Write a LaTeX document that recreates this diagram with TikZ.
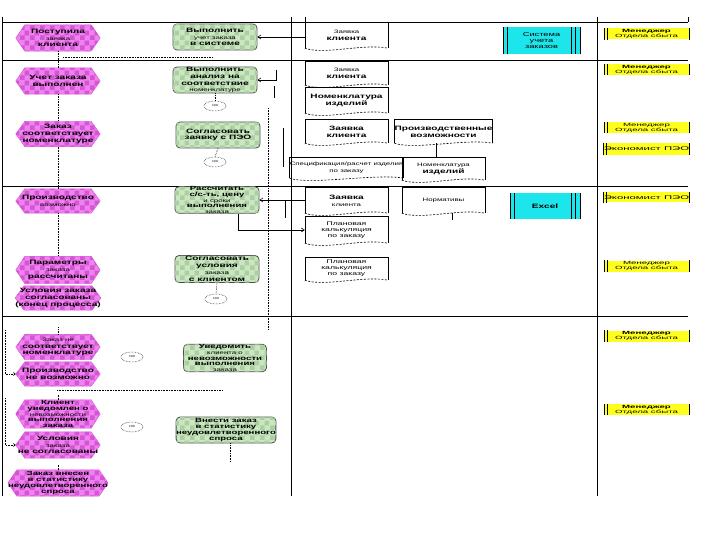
\documentclass[tikz,border=0pt]{standalone}
\usepackage{fontspec}
\setmainfont{Liberation Sans}
\newfontfamily\wfont[FakeStretch=1.6]{Liberation Sans}
\newfontfamily\ofont[FakeStretch=2.1]{Liberation Sans}
\usetikzlibrary{patterns,backgrounds,arrows.meta,shapes.geometric}
\definecolor{evmag}{RGB}{238,130,238}
\definecolor{evchk}{RGB}{214,84,214}
\definecolor{fngreen}{RGB}{204,230,196}
\definecolor{fnchk}{RGB}{170,208,160}
\definecolor{sycyan}{RGB}{28,230,236}
\definecolor{ogyellow}{RGB}{255,255,30}
\pgfdeclarepatternformonly{chk}{\pgfqpoint{0pt}{0pt}}{\pgfqpoint{10pt}{10pt}}{\pgfqpoint{10pt}{10pt}}{%
\pgfpathrectangle{\pgfqpoint{0pt}{0pt}}{\pgfqpoint{5pt}{5pt}}%
\pgfpathrectangle{\pgfqpoint{5pt}{5pt}}{\pgfqpoint{5pt}{5pt}}%
\pgfusepath{fill}}
\newcommand\sml[1]{{\fontsize{4.9}{5.2}\selectfont\mdseries #1}}
\newcommand\hexbg[1]{\begin{scope}[on background layer]\path[draw=evchk,line width=0.4pt,fill=evmag,postaction={pattern=chk,pattern color=evchk}] (#1.west) -- ([xshift=9pt]#1.north west) -- ([xshift=-9pt]#1.north east) -- (#1.east) -- ([xshift=-9pt]#1.south east) -- ([xshift=9pt]#1.south west) -- cycle;\end{scope}}
\newcommand\docbg[1]{\draw[line width=0.6pt] (#1.south west) -- (#1.north west) -- (#1.north east) -- (#1.south east);
\draw[line width=0.6pt,dash pattern=on 2pt off 1.5pt] (#1.south west) .. controls ([xshift=20pt,yshift=-7pt]#1.south west) and ([xshift=-25pt,yshift=5pt]#1.south east) .. (#1.south east);}
\newcommand\sysbg[1]{\draw[line width=0.6pt] (#1.south west) -- (#1.north west) ([xshift=4pt]#1.south west) -- ([xshift=4pt]#1.north west) ([xshift=-9pt]#1.south east) -- ([xshift=-9pt]#1.north east) ([xshift=-5pt]#1.south east) -- ([xshift=-5pt]#1.north east) (#1.south east) -- (#1.north east);}
\newcommand\orgbg[1]{\draw[line width=0.6pt] (#1.south west) -- (#1.north west) ([xshift=3pt]#1.south west) -- ([xshift=3pt]#1.north west) (#1.south east) -- (#1.north east);}
\begin{document}
\begin{tikzpicture}[x=1pt,y=-1pt,
 every node/.style={font=\wfont\bfseries\fontsize{6.3}{6.8}\selectfont,align=center,inner sep=0pt},
 ev/.style={minimum width=84pt,minimum height=26pt},
 fn/.style={draw=black!70,line width=0.8pt,rounded corners=4pt,fill=fngreen,postaction={pattern=chk,pattern color=fnchk},minimum width=84pt,minimum height=26pt},
 dc/.style={minimum width=83pt,minimum height=24pt},
 sy/.style={fill=sycyan,minimum width=77pt,minimum height=27pt},
 og/.style={fill=ogyellow,minimum width=85pt,minimum height=11pt,font=\ofont\fontsize{4.6}{5}\selectfont},
 xo/.style={draw,densely dotted,line width=0.5pt,ellipse,minimum width=22pt,minimum height=10pt,font=\fontsize{2.8}{3}\selectfont},
 flow/.style={densely dotted,line width=0.6pt},
 arr/.style={-{Straight Barb[length=3pt,width=4pt]},line width=0.6pt},
 grid/.style={line width=0.8pt}]
\useasboundingbox (0,0) rectangle (720,540);
% grid
\draw[grid] (2,22) -- (688,22) (2,60) -- (688,60) (2,186) -- (688,186) (2,316) -- (688,316);
\draw[grid] (2,22) -- (2,496) (291,22) -- (291,496) (597,22) -- (597,496);
\draw[line width=0.4pt] (2,17) -- (2,22) (291,17) -- (291,22) (305,17) -- (305,22) (597,17) -- (597,22) (688,17) -- (688,22);
% events
\node[ev] (e1) at (58,38) {Поступила\\\sml{заявка}\\клиента};
\node[ev] (e2) at (58,81) {Учет заказа\\выполнен};
\node[ev,minimum height=25pt] (e3) at (58,134) {Заказ\\соответствует\\номенклатуре};
\node[ev,minimum height=24pt] (e4) at (58,201) {Производство\\\sml{возможно}};
\node[ev,minimum height=27pt] (e5) at (58,270) {Параметры\\\sml{заказа}\\рассчитаны};
\node[ev,minimum height=24pt] (e6) at (58,298) {Условия заказа\\согласованы\\(конец процесса)};
\node[ev,minimum height=25pt] (e7) at (58,347) {\sml{Заказ не}\\соответствует\\номенклатуре};
\node[ev,minimum height=24pt] (e8) at (58,374) {Производство\\не возможно};
\node[ev,minimum height=28pt,font=\wfont\bfseries\fontsize{6}{5.6}\selectfont] (e9) at (58,414) {Клиент\\уведомлен о\\\sml{невозможности}\\выполнения\\заказа};
\node[ev] (e10) at (58,445) {Условия\\\sml{заказа}\\не согласованы};
\node[ev,font=\wfont\bfseries\fontsize{6}{6.2}\selectfont] (e11) at (58,483) {Заказ внесен\\в статистику\\неудовлетворенного\\спроса};
\foreach \n in {e1,e2,e3,e4,e5,e6,e7,e8,e9,e10,e11} {\hexbg{\n}}
% functions
\node[fn] (f1) at (215,37) {Выполнить\\\sml{учет заказа}\\в системе};
\node[fn] (f2) at (215,80) {Выполнить\\анализ на\\соответствие\\\sml{номенклатуре}};
\node[fn] (f3) at (218,135) {Согласовать\\заявку с ПЭО};
\node[fn,minimum height=25pt,font=\wfont\bfseries\fontsize{6}{5.6}\selectfont] (f4) at (217,200) {Рассчитать\\с/с-ть, цену\\\sml{и сроки}\\выполнения\\\sml{заказа}};
\node[fn,minimum height=27pt] (f5) at (217,269) {Согласовать\\условия\\\sml{заказа}\\с клиентом};
\node[fn,minimum width=83pt,minimum height=27pt,font=\wfont\bfseries\fontsize{6}{5.8}\selectfont] (f6) at (225,358) {Уведомить\\\sml{клиента о}\\невозможности\\выполнения\\\sml{заказа}};
\node[fn,minimum width=82pt,font=\wfont\bfseries\fontsize{6}{6.2}\selectfont] (f7) at (226,430) {Внести заказ\\в статистику\\неудовлетворенного\\спроса};
% xor
\node[xo] (x1) at (215,106) {XOR};
\node[xo] (x2) at (215,162) {XOR};
\node[xo] (x3) at (216,299) {XOR};
\node[xo] (x4) at (132,357) {XOR};
\node[xo] (x5) at (132,427) {XOR};
% documents
\node[dc,minimum height=25pt] (d1) at (346.5,35.5) {\sml{Заявка}\\клиента};
\node[dc,minimum height=23pt] (d2) at (346.5,73.5) {\sml{Заявка}\\клиента};
\node[dc,minimum height=25pt] (d3) at (346.5,100.5) {Номенклатура\\изделий};
\node[dc,minimum height=23pt] (d4) at (346.5,131.5) {Заявка\\клиента};
\node[dc,minimum height=23pt] (d5) at (443.5,131.5) {Производственные\\возможности};
\node[dc,minimum height=20pt] (d6) at (346.5,168) {\sml{Спецификация/расчет изделия}\\\sml{по заказу}};
\node[dc,minimum height=22pt] (d7) at (443.5,169) {\sml{Номенклатура}\\изделий};
\node[dc,minimum height=25pt] (d8) at (346.5,200.5) {Заявка\\\sml{клиента}};
\node[dc,minimum height=25pt] (d9) at (443.5,200.5) {\sml{Нормативы}};
\node[dc,minimum height=26pt,font=\wfont\fontsize{5.4}{6}\selectfont] (d10) at (346.5,230) {Плановая\\калькуляция\\по заказу};
\node[dc,minimum height=23pt,font=\wfont\fontsize{5.4}{6}\selectfont] (d11) at (346.5,268.5) {Плановая\\калькуляция\\по заказу};
\foreach \n in {d1,d2,d3,d4,d5,d6,d7,d8,d9,d10,d11} {\docbg{\n}}
% systems
\node[sy,font=\wfont\fontsize{5.8}{6.4}\selectfont] (s1) at (541.5,40.5) {Система\\учета\\заказов};
\node[sy,minimum width=70pt,minimum height=26pt] (s2) at (545,206) {Excel};
\sysbg{s1}\sysbg{s2}
% org units
\node[og] (o1) at (646.5,34) {\textbf{Менеджер}\\Отдела сбыта};
\node[og] (o2) at (646.5,69.5) {\textbf{Менеджер}\\Отдела сбыта};
\node[og] (o3) at (646.5,127.5) {Менеджер\\Отдела сбыта};
\node[og,minimum height=12pt,font=\ofont\fontsize{5.4}{6}\selectfont] (o4) at (646.5,149) {Экономист ПЭО};
\node[og,minimum height=10pt,font=\ofont\fontsize{5.4}{6}\selectfont] (o5) at (646.5,197.5) {Экономист ПЭО};
\node[og] (o6) at (646.5,266) {Менеджер\\Отдела сбыта};
\node[og] (o7) at (646.5,336) {\textbf{Менеджер}\\Отдела сбыта};
\node[og] (o8) at (646.5,409.5) {\textbf{Менеджер}\\Отдела сбыта};
\foreach \n in {o1,o2,o3,o4,o5,o6,o7,o8} {\orgbg{\n}}
% solid connectors
\draw[arr] (d1.west |- f1.east) -- (f1.east);
\coordinate (k1) at (276,70);
\draw[arr] (k1) |- (f2.east);
\coordinate (k2) at (274,86); \coordinate (k3) at (274,98);
\draw[line width=0.6pt] (k2) -- (k3);
\coordinate (k4) at (283,128); \coordinate (k5) at (283,167);
\draw[line width=0.6pt] (k4) -- (k5);
\draw[arr] (d8.west |- f4.east) -- (f4.east);
\coordinate (k6) at (285,200); \coordinate (k7) at (285,218);
\draw[line width=0.6pt] (k6) -- (k7);
\draw[arr] ([xshift=21pt]f4.south) |- (d10.west);
\draw[line width=0.6pt] ([xshift=-7.5pt]d5.south) -- ([xshift=-7.5pt]d7.north);
\draw[line width=0.6pt] ([xshift=8.5pt]d9.south) -- ++(0,7);
% dotted control flow
\draw[flow] (e1.south) -- (e2.north);
\draw[flow] (e2.south) -- (e3.north);
\draw[flow] (e3.south) -- (e4.north);
\draw[flow] (e4.south) -- (e5.north);
\coordinate (p1) at (63,57); \coordinate (p2) at (213,57);
\draw[flow] (p1) -- (p2);
\draw[flow] (f2.south) -- (x1.north);
\draw[flow] (f3.south) -- (x2.north);
\draw[flow] (f5.south) -- (x3.north);
\coordinate (v1) at (268,108); \coordinate (v2) at (268,330);
\draw[flow] (v1) -- (v2);
\coordinate (p3) at (57,390); \coordinate (p4) at (223,390);
\draw[flow] (p3) -- (p4);
\coordinate (q1) at (5,330); \coordinate (q2) at (5,398);
\draw[flow,-{Straight Barb[length=2pt,width=3pt]}] (q1) |- (e8.west);
\draw[flow,-{Straight Barb[length=2pt,width=3pt]}] (q2) |- (e10.west);
\draw[flow] (e7.north) -- ++(0,-7);
\draw[flow] (e9.north) -- ++(0,-5);
\draw[flow] (e11.north) -- ++(0,-5);
\draw[flow] ([xshift=4pt]f7.south) -- ++(0,19);
\end{tikzpicture}
\end{document}
